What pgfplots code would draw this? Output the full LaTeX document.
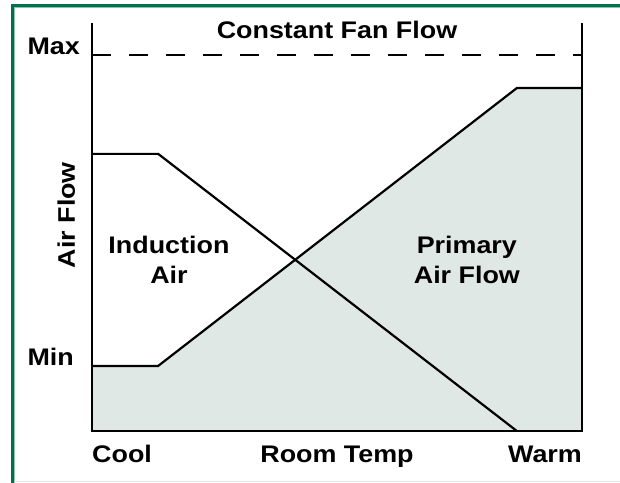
\documentclass[border=0pt]{standalone}
\usepackage{fontspec}
\setmainfont{Liberation Sans}[FakeStretch=1.12]
\usepackage{pgfplots}
\pgfplotsset{compat=1.18}
\definecolor{fillc}{HTML}{E0E8E5}
\definecolor{framegreen}{HTML}{00704C}
\definecolor{framelight}{HTML}{8FC2AE}
\definecolor{bottomgray}{HTML}{E2EAEA}
\begin{document}
\begin{tikzpicture}[lab/.style={font=\fontsize{24bp}{28bp}\selectfont\bfseries, inner sep=0pt}]
\path[use as bounding box] (0,0) rectangle (620bp,483bp);
\fill[white] (0,0) rectangle (620bp,483bp);
% frame
\draw[framegreen, line width=3bp] (12.5bp,0) -- (12.5bp,477bp) -- (620bp,477bp);
\draw[framelight, line width=1bp] (14.5bp,0) -- (14.5bp,475.2bp) -- (620bp,475.2bp);
\draw[bottomgray, line width=1.5bp] (14bp,1.5bp) -- (620bp,1.5bp);
\begin{axis}[
  at={(92bp,52bp)}, anchor=south west,
  scale only axis, width=490bp, height=408bp,
  xmin=0, xmax=100, ymin=0, ymax=108.5,
  hide axis, clip=false,
]
\addplot[fill=fillc, draw=none] coordinates {(0,0) (0,17.3) (13.5,17.3) (86.7,91.2) (100,91.2) (100,0)} \closedcycle;
\addplot[black, line width=2.2bp, dash pattern=on 19bp off 18bp] coordinates {(0,100) (100,100)};
\addplot[black, line width=2.2bp] coordinates {(0,17.3) (13.5,17.3) (86.7,91.2) (100,91.2)};
\addplot[black, line width=2.2bp] coordinates {(0,73.7) (13.5,73.7) (86.7,0)};
\addplot[black, line width=2.2bp] coordinates {(0,108.5) (0,0) (100,0) (100,108.5)};
\node[lab, anchor=base] at (axis cs:50,104.5) {Constant Fan Flow};
\node[lab, anchor=base west] at (axis cs:-13.2,100) {Max};
\node[lab, anchor=base west] at (axis cs:-13.2,17.3) {Min};
\node[lab, anchor=base, rotate=90] at (axis cs:-3.47,57.4) {Air Flow};
\node[lab, anchor=base] at (axis cs:15.7,47.3) {Induction};
\node[lab, anchor=base] at (axis cs:15.7,39.1) {Air};
\node[lab, anchor=base] at (axis cs:76.5,47.3) {Primary};
\node[lab, anchor=base] at (axis cs:76.5,39.1) {Air Flow};
\node[lab, anchor=base west] at (axis cs:0,-8.5) {Cool};
\node[lab, anchor=base] at (axis cs:50,-8.5) {Room Temp};
\node[lab, anchor=base east] at (axis cs:100,-8.5) {Warm};
\end{axis}
\end{tikzpicture}
\end{document}
